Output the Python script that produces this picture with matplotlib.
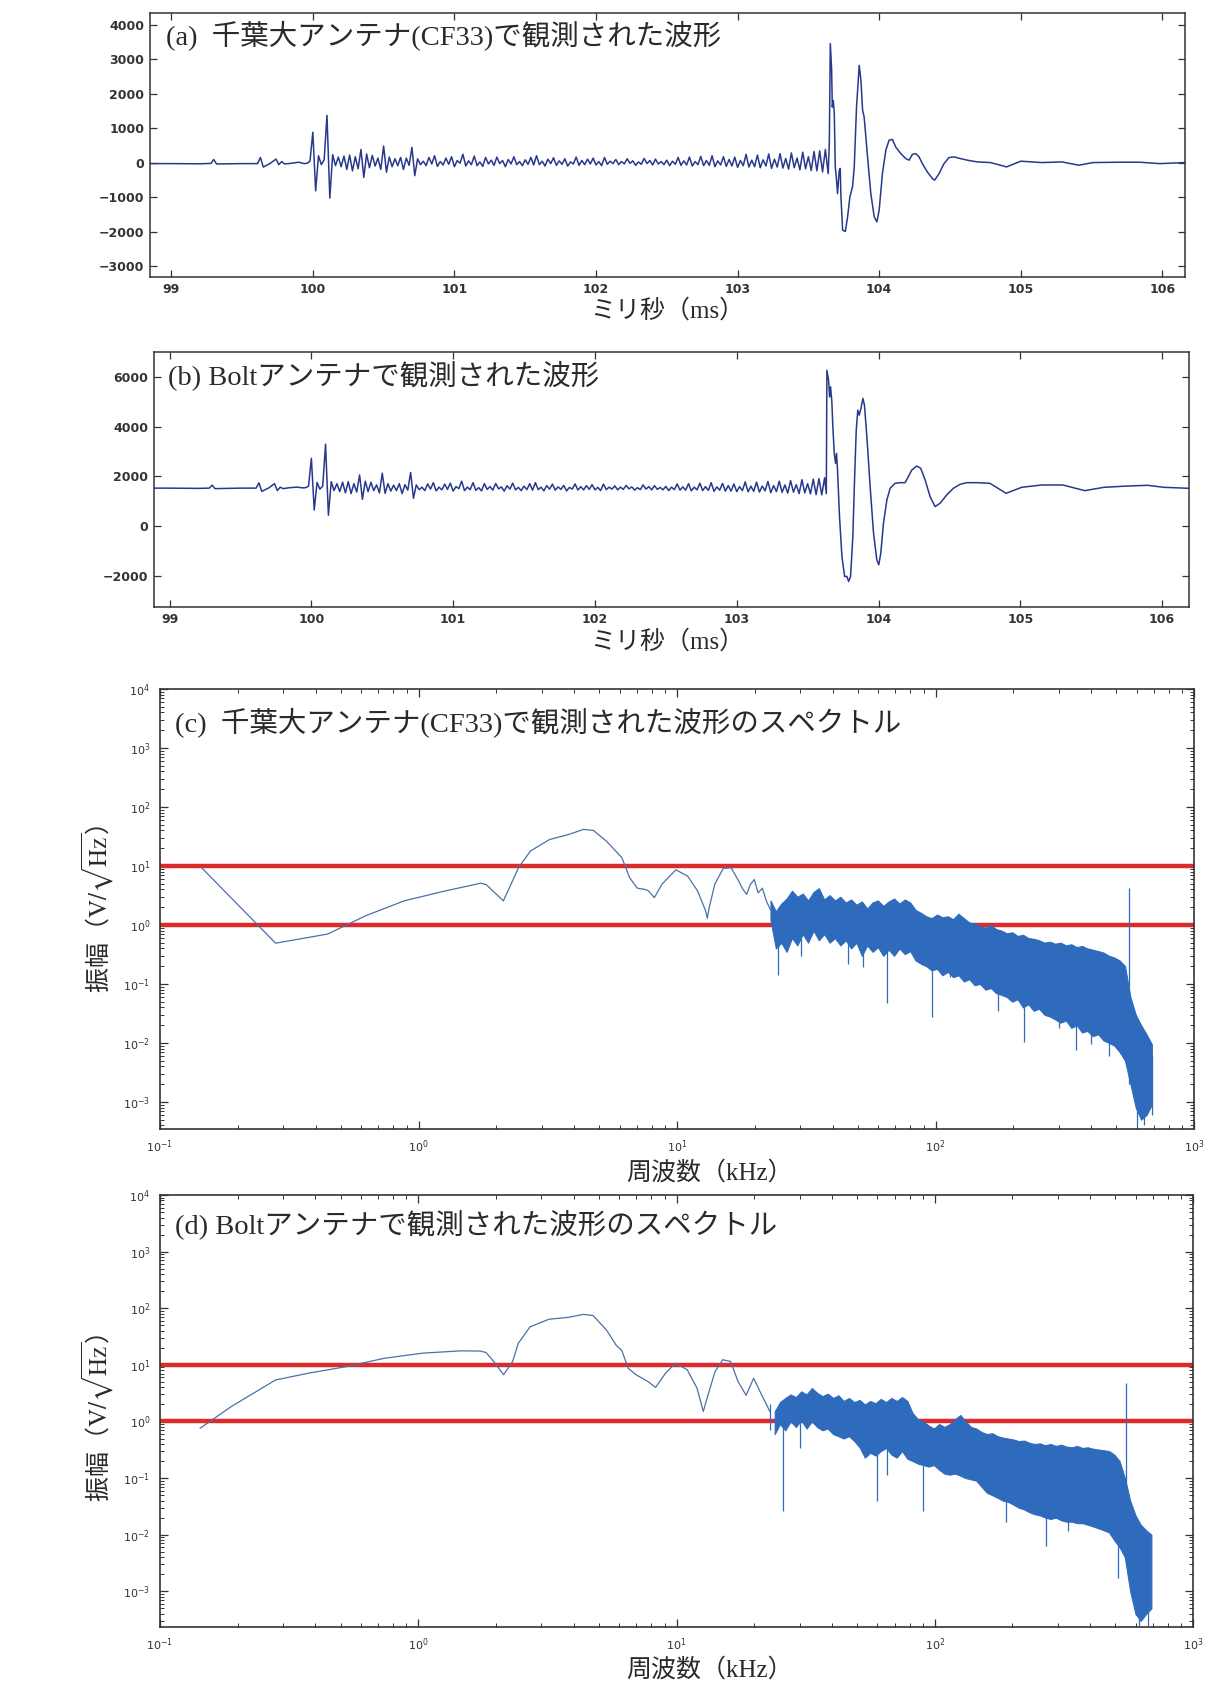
import numpy as np
import matplotlib
matplotlib.use("Agg")
import matplotlib.pyplot as plt
from matplotlib.ticker import LogLocator, NullFormatter

W, H = 1213, 1688
JP = ["Liberation Serif", "Noto Sans CJK JP"]
WAVE = "#28398c"
SPEC = "#2f6bbd"
SPEC_THIN = "#4a71a6"
RED = "#dc2b2b"
INK = "#2a2a2a"

# ---- (a) CF33 waveform ----
A_PRE_T = [98.85, 99.0, 99.2, 99.28, 99.30, 99.32, 99.5, 99.61, 99.63, 99.65,
           99.70, 99.74, 99.76, 99.78, 99.80, 99.85, 99.90, 99.94]
A_PRE_V = [-30, -30, -35, -25, 90, -40, -30, -30, 150, -130,
           -20, 100, -60, 30, -40, -20, 10, -30]
NOISE_T0, NOISE_DT = 99.96, 0.02
A_NOISE_V = [
    -20, 40, 880, -820, 200, -60, 80, 1370, -1030, 230,
    -90, 160, -120, 190, -200, 220, -240, 170, -180, 380,
    -430, 250, -150, 210, -100, 130, -200, 480, -280, 160,
    -120, 110, -90, 150, -200, 130, -80, 440, -380, 110,
    -60, 40, -90, 150, -40, 200, -110, 30, -70, 130,
    -50, 170, -120, 60, -20, 240, -100, 50, -60, 190,
    -90, 20, -110, 150, -40, 70, -80, 160, -30, 60,
    -120, 90, -40, 170, -60, 30, -90, 80, -50, 150,
    -70, 200, -60, 40, -100, 100, -30, 140, -80, 50,
    -50, 110, -100, 20, -40, 160, -80, 60, -60, 100,
    -40, 130, -70, 30, -90, 150, -50, 40, -30, 90,
    -60, 30, -40, 110, -20, 50, -80, 20, -50, 120,
    -30, 60, -70, 100, -40, 30, -60, 70, -90, 40,
    -50, 150, -80, 50, -70, 160, -100, 30, -60, 180,
    -90, 60, -80, 200, -120, 50, -70, 170, -110, 90,
    -100, 160, -140, 60, -90, 240, -130, 70, -120, 220,
    -150, 80, -100, 250, -170, 100, -130, 260, -160, 120,
    -190, 280, -150, 130, -210, 300, -180, 170, -230, 320,
    -240, 340, -270, 380, -320,
]
A_MAIN_T = [103.648, 103.655, 103.664, 103.669, 103.676, 103.683, 103.690, 103.699,
            103.706, 103.718, 103.725, 103.730, 103.742, 103.761, 103.777, 103.793,
            103.812, 103.824, 103.840, 103.859, 103.871, 103.883, 103.894, 103.918,
            103.941, 103.965, 103.984, 104.000, 104.023, 104.047, 104.070, 104.094,
            104.117, 104.153, 104.188, 104.211, 104.235, 104.258, 104.282, 104.305,
            104.340, 104.376, 104.392, 104.423, 104.458, 104.493, 104.528, 104.575,
            104.622, 104.692, 104.786, 104.90, 105.0, 105.15, 105.29, 105.41,
            105.51, 105.68, 105.84, 105.98, 106.16]
A_MAIN_V = [600, 3450, 2720, 1610, 1800, 1420, -125, -510,
            -900, -220, -170, -1000, -1960, -2000, -1575, -1000,
            -700, -125, 1610, 2820, 2390, 1520, 1320, 160,
            -900, -1575, -1720, -1380, -320, 360, 650, 670,
            450, 260, 115, 70, 240, 260, 165, -30,
            -270, -465, -510, -320, -30, 145, 165, 115,
            70, 20, 0, -125, 40, 0, 20, -77,
            0, 10, 10, -30, 0]

# ---- (b) Bolt waveform ----
B_PRE_T = [98.89, 99.0, 99.2, 99.28, 99.30, 99.32, 99.5, 99.61, 99.63, 99.65,
           99.70, 99.74, 99.76, 99.78, 99.80, 99.85, 99.90, 99.94]
B_PRE_V = [1520, 1520, 1510, 1520, 1640, 1500, 1520, 1520, 1730, 1390,
           1530, 1700, 1420, 1560, 1500, 1540, 1560, 1530]
B_NOISE_V = [
    1540, 1600, 2720, 640, 1750, 1480, 1600, 3290, 430, 1780,
    1420, 1700, 1380, 1760, 1330, 1780, 1300, 1700, 1360, 2050,
    1070, 1800, 1380, 1760, 1420, 1650, 1330, 2120, 1310, 1700,
    1400, 1640, 1420, 1700, 1300, 1660, 1440, 2150, 1110, 1650,
    1460, 1560, 1420, 1690, 1480, 1740, 1410, 1560, 1450, 1680,
    1470, 1720, 1400, 1580, 1500, 1800, 1420, 1560, 1460, 1740,
    1430, 1540, 1410, 1700, 1470, 1580, 1440, 1710, 1490, 1570,
    1400, 1620, 1480, 1720, 1450, 1550, 1420, 1600, 1460, 1700,
    1440, 1740, 1460, 1560, 1410, 1620, 1480, 1680, 1440, 1570,
    1470, 1630, 1410, 1550, 1480, 1690, 1440, 1580, 1450, 1620,
    1470, 1660, 1450, 1550, 1420, 1680, 1460, 1560, 1480, 1610,
    1450, 1560, 1470, 1630, 1490, 1570, 1440, 1540, 1460, 1650,
    1480, 1580, 1450, 1620, 1470, 1550, 1450, 1590, 1420, 1560,
    1460, 1690, 1440, 1570, 1440, 1700, 1410, 1560, 1450, 1720,
    1420, 1580, 1430, 1740, 1390, 1570, 1440, 1710, 1400, 1620,
    1400, 1690, 1380, 1580, 1420, 1770, 1370, 1600, 1390, 1760,
    1360, 1600, 1410, 1790, 1340, 1620, 1380, 1800, 1350, 1650,
    1320, 1820, 1360, 1660, 1300, 1860, 1330, 1700, 1290, 1880,
    1260, 1900, 1250, 1940,
]
B_MAIN_T = [103.632, 103.636, 103.648, 103.655, 103.662, 103.671, 103.678, 103.688,
            103.697, 103.704, 103.711, 103.725, 103.742, 103.761, 103.777, 103.789,
            103.803, 103.819, 103.831, 103.843, 103.854, 103.864, 103.876, 103.890,
            103.901, 103.918, 103.941, 103.965, 103.988, 104.002, 104.016, 104.035,
            104.059, 104.082, 104.117, 104.153, 104.188, 104.204, 104.235, 104.270,
            104.298, 104.329, 104.364, 104.399, 104.434, 104.481, 104.528, 104.575,
            104.622, 104.692, 104.786, 104.90, 105.01, 105.15, 105.30, 105.455,
            105.59, 105.76, 105.90, 106.01, 106.19]
B_MAIN_V = [1300, 6265, 5860, 5190, 5600, 4990, 3990, 2920,
            2520, 2920, 2250, 375, -1230, -2035, -2035, -2235,
            -2035, -430, 1850, 3855, 4660, 4460, 4725, 5130,
            4860, 3590, 1580, -295, -1365, -1565, -1100, 107,
            1045, 1513, 1714, 1740, 1740, 1915, 2250, 2410,
            2316, 1847, 1178, 776, 910, 1245, 1513, 1673,
            1740, 1740, 1714, 1312, 1553, 1647, 1647, 1419,
            1553, 1606, 1633, 1553, 1513]

# ---- (c) CF33 spectrum ----
C_F = [0.145, 0.28, 0.445, 0.625, 0.88, 1.24, 1.74, 1.83, 2.13, 2.44,
       2.71, 3.21, 3.80, 4.35, 4.75, 5.35, 6.12, 6.56, 7.02, 7.5,
       7.75, 8.17, 8.75, 9.9, 11.0, 12.0, 12.9, 13.1, 13.3, 14.0,
       15.1, 16.2, 17.3, 18.0, 18.6, 19.2, 19.9, 20.6, 21.4, 22.2, 23.0]
C_A = [9.3, 0.49, 0.70, 1.43, 2.56, 3.68, 5.1, 4.8, 2.56, 9.4,
       17.9, 28, 34, 41.7, 40, 26, 13.8, 6.3, 4.2, 4.0,
       3.8, 2.9, 4.9, 8.6, 6.7, 3.8, 1.74, 1.3, 1.9, 4.9,
       9.1, 9.3, 5.6, 4.0, 3.3, 4.8, 5.9, 3.5, 4.2, 2.5, 1.8]
C_BAND = (23.0, 687.0)  # log-spaced bins of the noisy band
C_BTOP = [2.6, 1.7, 2.3, 2.8, 3.8, 3.0, 3.4, 2.6, 3.6, 4.2,
          2.7, 3.2, 2.6, 3.0, 2.4, 2.7, 2.2, 2.5, 1.9, 2.4,
          2.6, 2.1, 2.5, 2.8, 2.3, 2.7, 2.4, 1.8, 1.6, 1.4,
          1.3, 1.5, 1.35, 1.4, 1.25, 1.55, 1.3, 1.1, 1.05, 0.95,
          0.9, 1.0, 0.85, 0.8, 0.72, 0.75, 0.65, 0.68, 0.6, 0.58,
          0.55, 0.5, 0.52, 0.48, 0.5, 0.45, 0.47, 0.42, 0.44, 0.4,
          0.38, 0.36, 0.34, 0.3, 0.28, 0.25, 0.2, 0.06, 0.03, 0.02,
          0.014, 0.0095]
C_BBOT = [1.2, 0.4, 0.5, 0.35, 0.6, 0.45, 0.7, 0.5, 0.8, 0.55,
          0.7, 0.5, 0.6, 0.45, 0.55, 0.4, 0.5, 0.3, 0.45, 0.35,
          0.42, 0.3, 0.38, 0.3, 0.4, 0.32, 0.36, 0.25, 0.22, 0.2,
          0.17, 0.18, 0.14, 0.16, 0.13, 0.14, 0.11, 0.12, 0.095, 0.1,
          0.08, 0.085, 0.07, 0.065, 0.06, 0.05, 0.055, 0.04, 0.045, 0.035,
          0.038, 0.03, 0.028, 0.025, 0.022, 0.024, 0.018, 0.02, 0.015, 0.016,
          0.013, 0.014, 0.011, 0.01, 0.009, 0.007, 0.005, 0.002, 0.0008, 0.0005,
          0.0006, 0.0009]
C_SF = [24.6, 30.1, 46.0, 52.6, 65.0, 96.5, 114, 175, 220, 300, 350, 400, 470, 560, 600, 640, 690]
C_SLO = [0.14, 0.30, 0.22, 0.19, 0.047, 0.028, 0.13, 0.035, 0.0105, 0.018,
         0.0076, 0.0095, 0.006, 0.002, 0.00039, 0.0004, 0.0006]
C_SHI = [1.5, 2.0, 1.5, 1.2, 1.5, 0.9, 0.9, 0.5, 0.3, 0.25, 0.2, 0.2, 0.15, 0.05, 0.01, 0.008, 0.006]
C_PEAK = (561, 0.05, 4.3)

# ---- (d) Bolt spectrum ----
D_F = [0.143, 0.189, 0.28, 0.374, 0.526, 0.741, 1.04, 1.47, 1.74, 1.83,
       1.96, 2.14, 2.32, 2.44, 2.71, 3.21, 3.81, 4.37, 4.76, 5.36,
       5.85, 6.14, 6.5, 6.97, 7.74, 8.3, 9.06, 9.9, 11.0, 12.0,
       12.7, 13.0, 14.1, 15.1, 16.2, 17.3, 18.6, 19.9, 21.4, 23.0]
D_A = [0.76, 1.84, 5.4, 7.1, 9.3, 13.1, 16.1, 17.7, 17.5, 16.5,
       11.5, 6.7, 11.5, 24, 47, 64, 69, 78, 74, 41,
       22, 18, 8.7, 6.7, 5.1, 4.0, 7.1, 10.7, 8.2, 3.9,
       1.5, 2.2, 7.6, 12.3, 11.5, 5.1, 2.9, 5.8, 2.9, 1.5]
D_BAND = (24.0, 690.0)
D_BTOP = [1.5, 2.2, 2.6, 3.0, 2.7, 3.4, 3.0, 3.9, 3.2, 2.8,
          3.1, 2.6, 2.9, 2.3, 2.6, 2.2, 2.4, 2.0, 2.3, 2.1,
          2.5, 2.2, 2.6, 2.3, 2.7, 2.3, 1.4, 1.1, 1.0, 0.85,
          0.75, 0.9, 0.8, 0.9, 1.1, 1.3, 1.0, 0.8, 0.75, 0.65,
          0.6, 0.62, 0.55, 0.52, 0.5, 0.48, 0.45, 0.46, 0.42, 0.4,
          0.41, 0.38, 0.4, 0.37, 0.39, 0.36, 0.35, 0.37, 0.34, 0.35,
          0.33, 0.32, 0.31, 0.3, 0.26, 0.2, 0.1, 0.04, 0.022, 0.015,
          0.012, 0.01]
D_BBOT = [0.6, 0.9, 0.7, 1.0, 0.8, 1.05, 0.75, 1.0, 0.8, 0.7,
          0.75, 0.6, 0.55, 0.5, 0.55, 0.45, 0.35, 0.23, 0.28, 0.25,
          0.3, 0.34, 0.26, 0.23, 0.3, 0.22, 0.2, 0.18, 0.17, 0.16,
          0.17, 0.14, 0.12, 0.115, 0.12, 0.11, 0.1, 0.095, 0.09, 0.07,
          0.055, 0.05, 0.045, 0.04, 0.038, 0.034, 0.03, 0.028, 0.025, 0.023,
          0.022, 0.02, 0.019, 0.02, 0.018, 0.017, 0.017, 0.016, 0.016, 0.015,
          0.014, 0.013, 0.012, 0.011, 0.008, 0.006, 0.004, 0.001, 0.0004, 0.0003,
          0.0004, 0.0005]
D_SF = [23.0, 25.9, 30.2, 60.0, 65.6, 90.0, 189, 270, 327, 514, 620, 667]
D_SLO = [0.71, 0.026, 0.34, 0.039, 0.115, 0.026, 0.017, 0.0063, 0.0115, 0.0017, 0.0002, 0.0002]
D_SHI = [2.0, 1.5, 2.5, 1.5, 1.5, 0.8, 0.4, 0.3, 0.3, 0.1, 0.01, 0.008]
D_PEAK = (549, 0.05, 4.7)

TIME_TICKS = [99, 100, 101, 102, 103, 104, 105, 106]
FREQ_TICKS = [0.1, 1, 10, 100, 1000]
AMP_TICKS = [1e-3, 1e-2, 1e-1, 1, 10, 100, 1000, 1e4]

fig = plt.figure(figsize=(W / 100, H / 100), dpi=100)


def box(left, top, right, bottom):
    return [left / W, 1 - bottom / H, (right - left) / W, (bottom - top) / H]


def label(x, y, s, size, family=JP, **kw):
    fig.text(x / W, 1 - y / H, s, fontsize=size, family=family, color=INK, va="center", **kw)


def wave_axes(rect, pre_t, pre_v, noise_v, main_t, main_v, xlim, ylim, yticks):
    ax = fig.add_axes(rect)
    noise_t = NOISE_T0 + NOISE_DT * np.arange(len(noise_v))
    t = np.concatenate([pre_t, noise_t, main_t])
    v = np.concatenate([pre_v, noise_v, main_v])
    ax.plot(t, v, color=WAVE, lw=1.1)
    ax.set_xlim(*xlim)
    ax.set_ylim(*ylim)
    ax.set_xticks(TIME_TICKS)
    ax.set_yticks(yticks)
    ax.tick_params(direction="in", length=5, width=0.9, top=True, right=True,
                   labelsize=9, pad=4, colors="#333333")
    for lab in ax.get_xticklabels() + ax.get_yticklabels():
        lab.set_fontweight("bold")
    for s in ax.spines.values():
        s.set_linewidth(1.1)
        s.set_color("#333333")
    return ax


def spec_axes(rect, f, a, band, btop, bbot, sf, slo, shi, peak, ylo):
    ax = fig.add_axes(rect)
    ax.set_xscale("log")
    ax.set_yscale("log")
    ax.axhline(10, color=RED, lw=3.2, zorder=2)
    ax.axhline(1, color=RED, lw=3.2, zorder=2)
    ax.plot(f, a, color=SPEC_THIN, lw=0.9, zorder=3)
    bf = np.geomspace(band[0], band[1], len(btop))
    ax.fill_between(bf, bbot, btop, color=SPEC, lw=0.8, zorder=3)
    ax.vlines(sf, slo, shi, color=SPEC, lw=0.9, zorder=3)
    ax.vlines([peak[0]], [peak[1]], [peak[2]], color=SPEC, lw=0.9, zorder=3)
    ax.set_xlim(0.1, 1000)
    ax.set_ylim(ylo, 1e4)
    ax.set_xticks(FREQ_TICKS)
    ax.set_yticks(AMP_TICKS)
    for axis in (ax.xaxis, ax.yaxis):
        axis.set_minor_locator(LogLocator(base=10, subs=np.arange(2, 10), numticks=40))
        axis.set_minor_formatter(NullFormatter())
    ax.set_xlim(0.1, 1000)
    ax.set_ylim(ylo, 1e4)
    ax.tick_params(which="both", direction="in", top=True, right=True, colors="#333333")
    ax.tick_params(which="major", length=6, width=0.9, labelsize=8, pad=7)
    ax.tick_params(which="minor", length=3, width=0.7)
    for s in ax.spines.values():
        s.set_linewidth(1.2)
        s.set_color("#333333")
    return ax


wave_axes(box(150, 13, 1185, 277), A_PRE_T, A_PRE_V, A_NOISE_V, A_MAIN_T, A_MAIN_V,
          (98.85, 106.16), (-3320, 4340), range(-3000, 5000, 1000))
wave_axes(box(154, 352, 1189, 607), B_PRE_T, B_PRE_V, B_NOISE_V, B_MAIN_T, B_MAIN_V,
          (98.89, 106.19), (-3265, 7000), range(-2000, 8000, 2000))
spec_axes(box(160, 689, 1194, 1129), C_F, C_A, C_BAND, C_BTOP, C_BBOT,
          C_SF, C_SLO, C_SHI, C_PEAK, 10 ** -3.46)
spec_axes(box(160, 1195, 1193, 1627), D_F, D_A, D_BAND, D_BTOP, D_BBOT,
          D_SF, D_SLO, D_SHI, D_PEAK, 10 ** -3.63)

label(166, 36, "(a)  千葉大アンテナ(CF33)で観測された波形", 20.5)
label(168, 375, "(b) Boltアンテナで観測された波形", 20.5)
label(175, 723, "(c)  千葉大アンテナ(CF33)で観測された波形のスペクトル", 20.5)
label(175, 1224, "(d) Boltアンテナで観測された波形のスペクトル", 20.5)

label(667, 311, "ミリ秒（ms）", 18, ha="center")
label(667, 642, "ミリ秒（ms）", 18, ha="center")
label(709, 1173, "周波数（kHz）", 18, ha="center")
label(709, 1670, "周波数（kHz）", 18, ha="center")

ylab = r"振幅（$\mathrm{V}/\sqrt{\mathrm{Hz}}$）"
label(98, 909, ylab, 18, family="Noto Sans CJK JP", ha="center", rotation=90,
      math_fontfamily="stix")
label(98, 1418, ylab, 18, family="Noto Sans CJK JP", ha="center", rotation=90,
      math_fontfamily="stix")

fig.savefig("out.png", dpi=100)
print("done")
